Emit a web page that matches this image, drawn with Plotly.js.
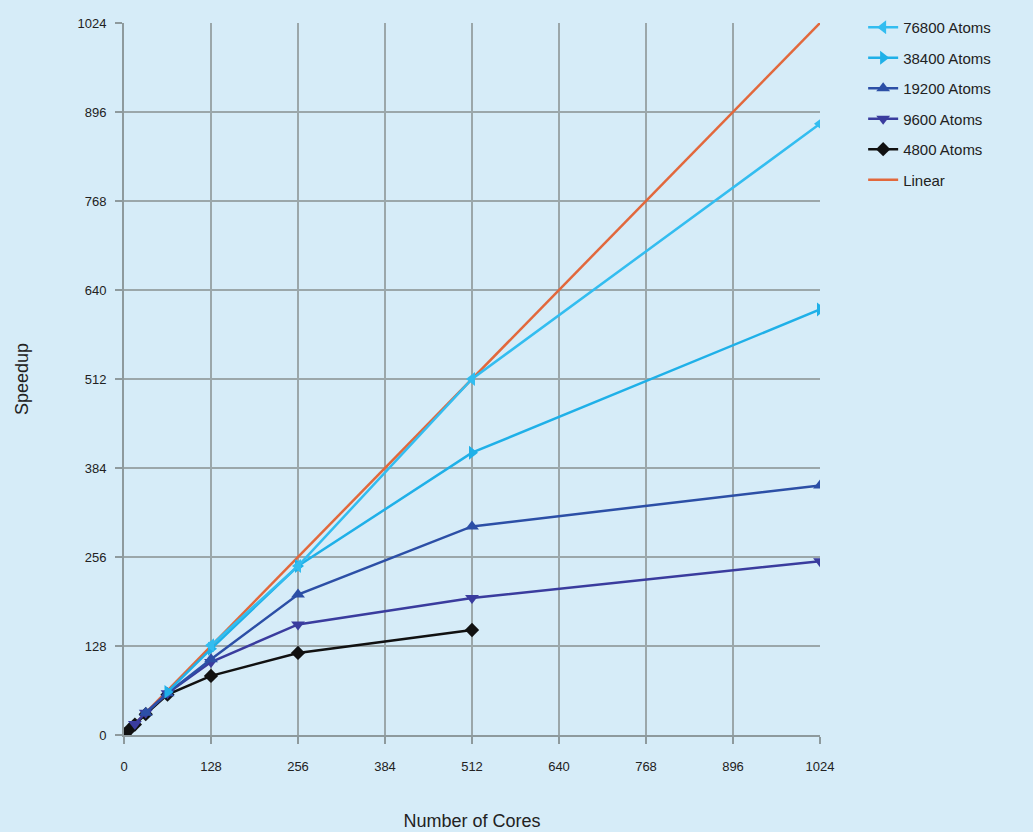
<!DOCTYPE html>
<html>
<head>
<meta charset="utf-8">
<script src="https://cdn.plot.ly/plotly-3.0.1.min.js"></script>
<style>html,body{margin:0;padding:0;background:#d6ecf8;}#chart{width:1033px;height:832px;}</style>
</head>
<body>
<div id="chart"></div>
<script>
// Data
const tickVals = [0, 128, 256, 384, 512, 640, 768, 896, 1024];

const linearCores = [0, 1024];
const linearSpeedup = [0, 1024];

const cores4800 = [1, 8, 16, 32, 64, 128, 256, 512];
const speedup4800 = [1, 8, 15, 30, 58, 85, 118, 151];

const cores9600 = [16, 32, 64, 128, 256, 512, 1024];
const speedup9600 = [16, 32, 60, 105, 159, 197, 250];

const cores19200 = [32, 64, 128, 256, 512, 1024];
const speedup19200 = [32, 60, 109, 202, 300, 359];

const cores38400 = [64, 128, 256, 512, 1024];
const speedup38400 = [62, 124, 243, 406, 612];

const cores76800 = [128, 256, 512, 1024];
const speedup76800 = [129, 243, 512, 879];

const names = ["Linear", "4800 Atoms", "9600 Atoms", "19200 Atoms", "38400 Atoms", "76800 Atoms"];

function series(x, y, name, color, symbol, size, rank) {
  const t = {x: x, y: y, name: name, type: "scatter", legendgroup: name, legendrank: rank,
    mode: symbol ? "lines+markers" : "lines",
    line: {color: color, width: 2.5}};
  if (symbol) t.marker = {symbol: symbol, size: size, color: color};
  return t;
}

const data = [
  series(linearCores, linearSpeedup, names[0], "#e2683c", null, 0, 6),
  series(cores4800, speedup4800, names[1], "#111111", "diamond", 11, 5),
  series(cores9600, speedup9600, names[2], "#3a3c9e", "triangle-down", 12, 4),
  series(cores19200, speedup19200, names[3], "#2c4fa6", "triangle-up", 12, 3),
  series(cores38400, speedup38400, names[4], "#1fb0e8", "triangle-right", 12, 2),
  series(cores76800, speedup76800, names[5], "#33bdf0", "triangle-left", 12, 1)
];

const axisCommon = {
  range: [0, 1024], tickvals: tickVals, ticktext: tickVals.map(String),
  showgrid: true, gridcolor: "#9ba7aa", gridwidth: 2,
  showline: true, linecolor: "#8e9a9d", linewidth: 2,
  ticks: "outside", ticklen: 7, tickcolor: "#8e9a9d", tickwidth: 1.5,
  zeroline: false, automargin: false,
  tickfont: {family: "Liberation Sans Narrow, Liberation Sans, Arial", size: 13, color: "#222"}
};

const layout = {
  width: 1033, height: 832,
  paper_bgcolor: "#d6ecf8", plot_bgcolor: "#d6ecf8",
  margin: {l: 124, r: 213, t: 22, b: 97},
  showlegend: true,
  legend: {x: 1.062, y: 1.0155, xanchor: "left", yanchor: "top", traceorder: "grouped",
    bgcolor: "rgba(0,0,0,0)", tracegroupgap: 8,
    font: {family: "Liberation Sans, Arial", size: 15, color: "#222"}},
  xaxis: Object.assign({}, axisCommon, {
    ticklabelstandoff: 11,
    title: {text: "Number of Cores", standoff: 42,
      font: {family: "Liberation Sans, Arial", size: 18, color: "#222"}}
  }),
  yaxis: Object.assign({}, axisCommon, {
    ticklabelstandoff: 6,
    title: {text: "Speedup", standoff: 44,
      font: {family: "Liberation Sans, Arial", size: 18, color: "#222"}}
  })
};

Plotly.newPlot("chart", data, layout, {displayModeBar: false, staticPlot: true});
</script>
</body>
</html>
